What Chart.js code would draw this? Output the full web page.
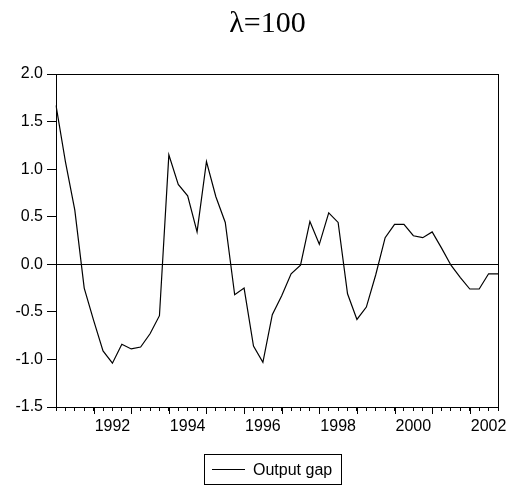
<!DOCTYPE html>
<html>
<head>
<meta charset="utf-8">
<script src="https://cdn.jsdelivr.net/npm/chart.js@4.4.0/dist/chart.umd.min.js"></script>
<style>
  html, body { margin: 0; padding: 0; background: #fff; }
  #wrap { position: relative; width: 516px; height: 486px; overflow: hidden; }
  #title { position: absolute; left: 0; top: 7px; width: 535px; text-align: center;
           font-family: "Liberation Serif", "Times New Roman", serif; font-size: 30px; line-height: 30px; color: #000; }
  #legend { position: absolute; left: 204px; top: 454px; height: 29px; padding-right: 9px;
            border: 1px solid #000; font-family: "Liberation Sans", Arial, sans-serif; font-size: 16px;
            color: #000; display: flex; align-items: center; white-space: nowrap; }
  #legend .ln { display: inline-block; width: 33px; border-top: 1px solid #000; margin-left: 7px; margin-right: 8px; }
</style>
</head>
<body>
<div id="wrap">
  <canvas id="c" width="516" height="486"></canvas>
  <div id="title"></div>
  <div id="legend"><span class="ln"></span><span id="legtext"></span></div>
</div>
<script>
const categories = [
  '1990Q3','1990Q4',
  '1991Q1','1991Q2','1991Q3','1991Q4',
  '1992Q1','1992Q2','1992Q3','1992Q4',
  '1993Q1','1993Q2','1993Q3','1993Q4',
  '1994Q1','1994Q2','1994Q3','1994Q4',
  '1995Q1','1995Q2','1995Q3','1995Q4',
  '1996Q1','1996Q2','1996Q3','1996Q4',
  '1997Q1','1997Q2','1997Q3','1997Q4',
  '1998Q1','1998Q2','1998Q3','1998Q4',
  '1999Q1','1999Q2','1999Q3','1999Q4',
  '2000Q1','2000Q2','2000Q3','2000Q4',
  '2001Q1','2001Q2','2001Q3','2001Q4',
  '2002Q1','2002Q2'
];
const outputGap = [
  1.67, 1.08,
  0.57, -0.25, -0.59, -0.91,
  -1.04, -0.84, -0.89, -0.87,
  -0.73, -0.54, 1.15, 0.84,
  0.72, 0.34, 1.08, 0.71,
  0.44, -0.32, -0.25, -0.86,
  -1.03, -0.53, -0.33, -0.10,
  -0.01, 0.45, 0.21, 0.54,
  0.44, -0.31, -0.58, -0.45,
  -0.11, 0.28, 0.42, 0.42,
  0.30, 0.28, 0.34, 0.17,
  -0.01, -0.14, -0.26, -0.26,
  -0.10, -0.10
];
const yearLabels = ['1992','1994','1996','1998','2000','2002'];
const yTicks = [-1.5, -1.0, -0.5, 0.0, 0.5, 1.0, 1.5, 2.0];
const titleText = 'λ=100';
const seriesName = 'Output gap';

document.getElementById('title').textContent = titleText;
document.getElementById('legtext').textContent = seriesName;

const framePlugin = {
  id: 'frame',
  afterDraw(chart) {
    const {ctx, chartArea: a, scales} = chart;
    ctx.save();
    ctx.strokeStyle = '#000';
    ctx.lineWidth = 1;
    ctx.strokeRect(Math.round(a.left) + 0.5, Math.round(a.top) + 0.5,
                   Math.round(a.right - a.left), Math.round(a.bottom - a.top));
    // longer year ticks
    const xs = scales.x;
    ctx.beginPath();
    for (let i = 4; i < categories.length; i += 4) {
      const px = Math.round(xs.getPixelForTick(i)) + 0.5;
      ctx.moveTo(px, a.bottom);
      ctx.lineTo(px, a.bottom + 7);
    }
    ctx.stroke();
    ctx.restore();
  }
};

new Chart(document.getElementById('c'), {
  type: 'line',
  data: {
    labels: categories,
    datasets: [{
      label: seriesName,
      data: outputGap,
      borderColor: '#000',
      borderWidth: 1.2,
      pointRadius: 0,
      tension: 0,
      fill: false
    }]
  },
  options: {
    responsive: false,
    animation: false,
    devicePixelRatio: 1,
    layout: { padding: { left: 0, right: 18, top: 74, bottom: 0 } },
    plugins: {
      legend: { display: false },
      tooltip: { enabled: false },
      title: { display: false }
    },
    scales: {
      x: {
        type: 'category',
        offset: false,
        border: { display: false },
        grid: { display: true, drawOnChartArea: false, drawTicks: true, tickLength: 4, tickColor: '#000', color: '#000' },
        ticks: {
          autoSkip: false, maxRotation: 0, minRotation: 0, padding: 6, color: '#000',
          font: { family: '"Liberation Sans", Arial, sans-serif', size: 16 },
          callback: function(v, i) {
            const c = categories[i];
            const y = c.slice(0, 4);
            return (c.endsWith('Q1') && yearLabels.includes(y)) ? y : '';
          }
        },
        afterFit(scale) { scale.height = 79; }
      },
      y: {
        min: -1.5, max: 2.0,
        border: { display: false },
        afterBuildTicks(scale) { scale.ticks = yTicks.map(v => ({ value: v })); },
        grid: {
          drawOnChartArea: true, drawTicks: true, tickLength: 9, tickColor: '#000',
          color: (c) => (c.tick && c.tick.value === 0) ? '#000' : 'rgba(0,0,0,0)',
          lineWidth: 1
        },
        ticks: {
          padding: 4, color: '#000',
          font: { family: '"Liberation Sans", Arial, sans-serif', size: 16 },
          callback: (v) => Number(v).toFixed(1)
        },
        afterFit(scale) { scale.width = 56; }
      }
    }
  },
  plugins: [framePlugin]
});
</script>
</body>
</html>
